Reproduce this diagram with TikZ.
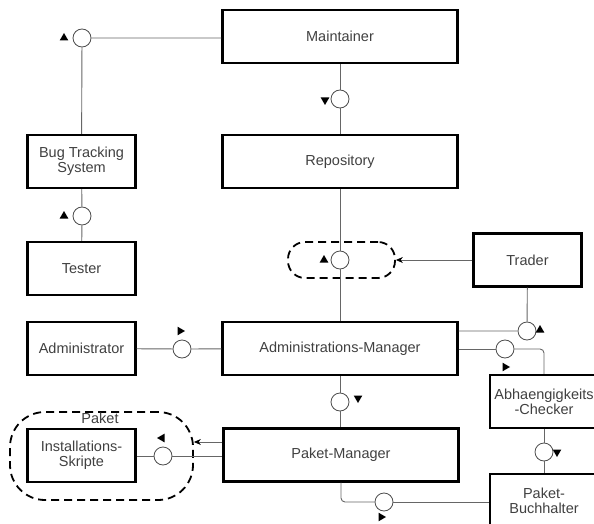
\documentclass[tikz,border=0pt]{standalone}
\usepackage{fontspec}
\setmainfont{Liberation Sans}
\usetikzlibrary{shapes.geometric,arrows.meta}
\tikzset{
  unit/.style={
    draw,line width=2.3pt,minimum width=108pt,minimum height=53pt,
    align=center,inner sep=1pt,text=black!75,
    font=\fontsize{14.5}{15}\selectfont
  },
  wide/.style={unit,minimum width=235pt},
  port/.style={
    circle,draw=black!70,fill=white,line width=0.8pt,
    minimum size=18pt,inner sep=0pt
  },
  link/.style={draw=black!60,line width=0.9pt},
  flow/.style={link,-{Stealth[length=7pt,width=6pt,black]}},
  group/.style={draw,line width=1.8pt,dash pattern=on 8pt off 5pt},
  tipmark/.style={
    regular polygon,regular polygon sides=3,fill=black,
    inner sep=0pt,minimum size=10pt,rotate=#1
  },
  caption/.style={text=black!75,font=\fontsize{14.5}{15}\selectfont,inner sep=0pt}
}

\begin{document}
\begin{tikzpicture}[x=1pt,y=-1pt]
\useasboundingbox (0,0) rectangle (594,524);

% groups
\node[group,rounded corners=17pt,minimum width=107pt,minimum height=36pt] (store) at (341.5,260) {};
\node[group,rounded corners=35pt,minimum width=183pt,minimum height=88pt] (paket) at (101.5,456) {};
\node[caption] (paketname) at (100,418) {Paket};

% components
\node[wide] (maint) at (340,36.5) {Maintainer};
\node[wide] (repo) at (340,161.5) {Repository};
\node[unit] (bug) at (81.5,161.5) {Bug Tracking\\System};
\node[unit] (tester) at (81.5,268.5) {Tester};
\node[unit] (trader) at (527.5,260) {Trader};
\node[unit] (admin) at (81.5,348.5) {Administrator};
\node[wide] (admgr) at (340,348.5) {Administrations-Manager};
\node[unit] (checker) at (544,401.5) {Abhaengigkeits\\-Checker};
\node[wide] (pkmgr) at (341,455) {Paket-Manager};
\node[unit] (skripte) at (81.5,455.5) {Installations-\\Skripte};
\node[unit] (buchh) at (544,500.5) {Paket-\\Buchhalter};

% interfaces
\node[port] (pmaint) at (82,38) {};
\node[port] (prepo) at (340,99) {};
\node[port] (pbug) at (82,216) {};
\node[port] (pstore) at (340,260) {};
\node[port] (padmin) at (182,349) {};
\node[port] (ptrader) at (527,331) {};
\node[port] (pcheck) at (505,349) {};
\node[port] (ppaket) at (340,402) {};
\node[port] (pskript) at (163,456) {};
\node[port] (pbuch) at (544,452) {};
\node[port] (pacct) at (384,502) {};

% connectors
\draw[link] (maint.west |- pmaint) -- (pmaint) -- (bug);
\draw[link] (maint) -- (prepo) -- (repo);
\draw[link] (bug) -- (pbug) -- (tester);
\draw[link] (repo) -- (pstore) -- (admgr);
\draw[link] (admin) -- (padmin) -- (admgr);
\draw[link] (trader) -- (ptrader) -- (ptrader -| admgr.east);
\draw[link] (admgr.east |- pcheck) -- (pcheck);
\draw[link,rounded corners=4pt] (pcheck.east) -| (checker.north);
\draw[link] (admgr) -- (ppaket) -- (ppaket |- pkmgr.north);
\draw[link] (skripte.east |- pskript) -- (pskript) -- (pskript -| pkmgr.west);
\draw[link] (checker) -- (pbuch) -- (buchh);
\draw[link,rounded corners=4pt] (pkmgr.south) |- (pacct.west);
\draw[link] (pacct) -- (pacct -| buchh.west);
\draw[flow] (trader) -- (store);
\draw[flow] ([yshift=13pt]pkmgr.west) -- ([yshift=13pt]pkmgr.west -| paket.east);

% directions
\node[tipmark=0] (dmaint) at (64,38) {};
\node[tipmark=180] (drepo) at (325,100) {};
\node[tipmark=0] (dbug) at (64,216) {};
\node[tipmark=0] (dstore) at (324,260) {};
\node[tipmark=-90] (dadmin) at (180,331) {};
\node[tipmark=0] (dtrader) at (540,330) {};
\node[tipmark=-90] (dcheck) at (505,367) {};
\node[tipmark=180] (dpaket) at (358,398) {};
\node[tipmark=90] (dskript) at (162,438) {};
\node[tipmark=180] (dbuch) at (557,452) {};
\node[tipmark=-90] (dacct) at (381,517) {};
\end{tikzpicture}
\end{document}
